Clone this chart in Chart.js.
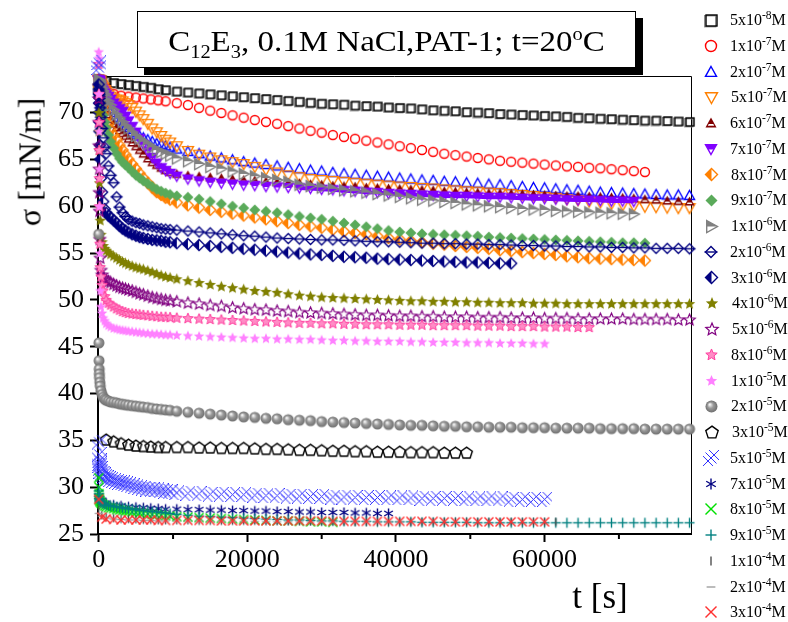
<!DOCTYPE html>
<html>
<head>
<meta charset="utf-8">
<script src="https://cdn.jsdelivr.net/npm/chart.js@4.4.1/dist/chart.umd.min.js"></script>
<style>
  body { margin: 0; background: #fff; }
  #wrap { position: relative; width: 788px; height: 622px; overflow: hidden; font-family: 'Liberation Serif', 'Times New Roman', serif; color: #000; }
  #chart { position: absolute; left: 0; top: 0; }
  #title { position: absolute; left: 137px; top: 11px; width: 497px; height: 55px; border: 1px solid #000; background: #fff;
           box-shadow: 7px 7px 0 #000; font-size: 30px; text-align: center; line-height: 57px; white-space: nowrap; }
  #title span { display: inline-block; transform: scaleX(1.1); }
  sub, sup { font-size: 62%; line-height: 0; }
  #ylabel { position: absolute; left: 30px; top: 162px; transform: translate(-50%, -50%) rotate(-90deg); font-size: 32px; white-space: nowrap; }
  #xlabel { position: absolute; left: 600px; top: 597px; transform: translate(-50%, -50%); font-size: 35px; white-space: nowrap; }
  #legend { position: absolute; left: 700px; top: 0; width: 88px; height: 622px; }
  .row { position: absolute; left: 0; height: 20px; display: flex; align-items: center; white-space: nowrap; font-size: 16px; }
  .row canvas { margin-left: 3px; margin-right: 11px; }
  .row sup { font-size: 72%; vertical-align: 0.5em; }
</style>
</head>
<body>
<div id="wrap">
  <canvas id="chart" width="788" height="622"></canvas>
  <div id="title"><span>C<sub>12</sub>E<sub>3</sub>, 0.1M NaCl,PAT-1; t=20<sup>o</sup>C</span></div>
  <div id="ylabel">&sigma; [mN/m]</div>
  <div id="xlabel">t [s]</div>
  <div id="legend"></div>
</div>
<script>
// time grids [s]: dense start, coarse start, and the common tail
const tFine = [0, 20, 40, 60, 80, 100, 150, 200, 300, 450, 600, 800, 1000, 1300, 1600, 2000, 2400, 2800, 3200, 3600,
  4000, 4500, 5000, 5500, 6000, 6600, 7200, 7800, 8400, 9000, 9600];
const tCoarse = [0, 400, 1000, 2000, 3000, 4000, 5000, 6000, 7000, 8000, 9000];
const tTail = [10500, 12000, 13500, 15000, 16500, 18000, 19500, 21000, 22500, 24000, 25500, 27000, 28500, 30000,
  31500, 33000, 34500, 36000, 37500, 39000, 40500, 42000, 43500, 45000, 46500, 48000, 49500, 51000, 52500, 54000,
  55500, 57000, 58500, 60000, 61500, 63000, 64500, 66000, 67500, 69000, 70500, 72000, 73500, 75000, 76500, 78000, 79500];

const gridFine = tFine.concat(tTail);
const gridCoarse = tCoarse.concat(tTail);
const gridPenta = tCoarse.slice(2).concat(tTail);

// surface tension sigma [mN/m] for each concentration
const sig5e8 = [73.6, 73.5, 73.4, 73.2, 73.1, 73.0, 72.9, 72.8, 72.7, 72.55, 72.45,
  72.3, 72.2, 72.1, 72.0, 71.9, 71.8, 71.7, 71.6, 71.5, 71.4, 71.3, 71.2, 71.1, 71.0, 70.95, 70.9, 70.8, 70.75, 70.7, 70.6,
  70.55, 70.5, 70.4, 70.3, 70.25, 70.2, 70.1, 70.05, 70.0, 69.9, 69.85, 69.8, 69.75, 69.7, 69.65, 69.6, 69.5, 69.45, 69.4, 69.35,
  69.3, 69.25, 69.2, 69.2, 69.15, 69.1, 69.05];
const sig1e7 = [73.6, 73.2, 72.6, 72.0, 71.8, 71.7, 71.6, 71.5, 71.4, 71.3, 71.2,
  71.0, 70.8, 70.5, 70.2, 69.95, 69.7, 69.45, 69.2, 69.0, 68.8, 68.55, 68.3, 68.05, 67.85, 67.6, 67.4, 67.2, 67.0, 66.8, 66.6,
  66.4, 66.2, 66.0, 65.8, 65.6, 65.45, 65.3, 65.15, 65.0, 64.85, 64.75, 64.65, 64.55, 64.45, 64.35, 64.25, 64.2, 64.1, 64.05, 63.95,
  63.85, 63.75, 63.65];
const sig2e7 = [73.5, 73.45, 73.4, 73.3, 73.25, 73.2, 73.05, 72.9, 72.6, 72.2, 71.8, 71.3, 70.9, 70.4, 70.0, 69.5, 69.2, 68.9,
  68.6, 68.4, 68.2, 67.9, 67.7, 67.5, 67.3, 67.1, 66.9, 66.7, 66.6, 66.45, 66.3,
  66.1, 65.85, 65.6, 65.35, 65.15, 64.95, 64.75, 64.6, 64.45, 64.3, 64.15, 64.0, 63.85, 63.75, 63.6, 63.5, 63.4, 63.3, 63.2, 63.1,
  63.0, 62.9, 62.8, 62.75, 62.65, 62.6, 62.5, 62.45, 62.35, 62.3, 62.2, 62.1, 62.0, 61.95, 61.85, 61.75, 61.7, 61.6, 61.5, 61.45,
  61.4, 61.35, 61.3, 61.25, 61.2, 61.2, 61.15];
const sig5e7 = [73.5, 73.5, 73.45, 73.45, 73.4, 73.4, 73.35, 73.3, 73.1, 72.9, 72.7, 72.4, 72.2, 71.9, 71.7, 71.5, 71.4, 71.3,
  71.2, 71.0, 70.8, 70.5, 70.1, 69.7, 69.3, 68.8, 68.3, 67.9, 67.5, 67.1, 66.8,
  66.4, 65.9, 65.5, 65.2, 64.9, 64.7, 64.5, 64.2, 63.9, 63.6, 63.3, 63.1, 62.9, 62.8, 62.7, 62.6, 62.5, 62.4, 62.3, 62.2,
  62.1, 62.05, 61.95, 61.9, 61.8, 61.7, 61.6, 61.55, 61.45, 61.4, 61.3, 61.2, 61.1, 61.0, 60.9, 60.75, 60.65, 60.5, 60.4, 60.25,
  60.1, 60.0, 59.95, 59.9, 59.85, 59.8, 59.8];
const sig6e7 = [73.5, 73.45, 73.4, 73.35, 73.3, 73.2, 73.05, 72.9, 72.5, 72.0, 71.5, 70.9, 70.4, 69.8, 69.3, 68.8, 68.4, 68.1,
  67.8, 67.5, 67.2, 66.8, 66.4, 66.0, 65.6, 65.1, 64.7, 64.4, 64.1, 63.85, 63.65,
  63.45, 63.3, 63.2, 63.1, 63.0, 62.9, 62.8, 62.75, 62.65, 62.6, 62.5, 62.45, 62.35, 62.3, 62.2, 62.15, 62.1, 62.0, 61.95, 61.9,
  61.85, 61.8, 61.75, 61.7, 61.6, 61.55, 61.5, 61.45, 61.4, 61.4, 61.35, 61.3, 61.25, 61.2, 61.15, 61.1, 61.1, 61.05, 61.0, 60.95,
  60.9, 60.85, 60.75, 60.7, 60.6, 60.55, 60.5];
const sig7e7 = [73.5, 73.45, 73.4, 73.4, 73.35, 73.3, 73.2, 73.0, 72.8, 72.5, 72.3, 72.1, 71.9, 71.7, 71.4, 71.0, 70.7, 70.4,
  70.1, 69.6, 69.1, 68.5, 67.9, 67.2, 66.6, 65.9, 65.2, 64.6, 64.1, 63.8, 63.5,
  63.2, 62.9, 62.7, 62.55, 62.45, 62.35, 62.25, 62.2, 62.1, 62.05, 62.0, 61.95, 61.9, 61.8, 61.75, 61.65, 61.6, 61.5, 61.45, 61.35,
  61.3, 61.25, 61.2, 61.15, 61.1, 61.05, 61.05, 61.0, 60.95, 60.95, 60.9, 60.85, 60.8, 60.8, 60.75, 60.7, 60.65, 60.65, 60.6, 60.55,
  60.55, 60.5];
const sig8e7 = [73.0, 72.9, 72.8, 72.7, 72.65, 72.6, 72.4, 72.2, 71.8, 71.2, 70.7, 70.1, 69.5, 68.8, 68.2, 67.6, 67.1, 66.5,
  66.0, 65.5, 65.0, 64.5, 64.0, 63.5, 63.0, 62.5, 62.0, 61.5, 61.2, 60.9, 60.7,
  60.4, 60.1, 59.85, 59.6, 59.4, 59.2, 59.0, 58.8, 58.6, 58.4, 58.2, 58.0, 57.85, 57.7, 57.5, 57.3, 57.15, 57.0, 56.8, 56.6,
  56.45, 56.3, 56.15, 56.0, 55.9, 55.75, 55.65, 55.55, 55.45, 55.3, 55.2, 55.1, 55.0, 54.9, 54.8, 54.65, 54.55, 54.45, 54.4, 54.35,
  54.3, 54.25, 54.2];
const sig9e7 = [72.6, 72.5, 72.4, 72.3, 72.1, 72.0, 71.7, 71.5, 71.0, 70.3, 69.7, 69.0, 68.4, 67.6, 66.9, 66.2, 65.6, 65.1,
  64.7, 64.4, 64.1, 63.7, 63.3, 63.0, 62.7, 62.4, 62.1, 61.8, 61.6, 61.4, 61.25,
  61.1, 60.95, 60.75, 60.5, 60.25, 60.0, 59.8, 59.6, 59.45, 59.3, 59.1, 58.9, 58.75, 58.6, 58.4, 58.2, 58.0, 57.8, 57.6, 57.4,
  57.25, 57.15, 57.05, 57.0, 56.95, 56.9, 56.85, 56.8, 56.7, 56.65, 56.6, 56.55, 56.5, 56.45, 56.4, 56.35, 56.3, 56.25, 56.2, 56.15,
  56.1, 56.1, 56.05];
const sig1e6 = [73.5, 73.45, 73.45, 73.4, 73.35, 73.3, 73.2, 73.1, 72.9, 72.6, 72.3, 72.0, 71.7, 71.2, 70.8, 70.3, 69.8, 69.4,
  69.0, 68.6, 68.3, 67.9, 67.5, 67.2, 66.9, 66.6, 66.3, 66.0, 65.8, 65.6, 65.4,
  65.1, 64.8, 64.5, 64.2, 64.0, 63.7, 63.45, 63.2, 63.0, 62.8, 62.6, 62.3, 62.15, 62.0, 61.85, 61.7, 61.6, 61.45, 61.3, 61.15,
  61.0, 60.85, 60.7, 60.6, 60.45, 60.35, 60.2, 60.1, 60.0, 59.9, 59.8, 59.7, 59.65, 59.6, 59.5, 59.45, 59.4, 59.35, 59.3, 59.25,
  59.2, 59.15];
const sig2e6 = [72.5, 72.3, 72.1, 71.9, 71.7, 71.5, 71.0, 70.5, 69.5, 68.3, 67.3, 66.3, 65.6, 64.3, 63.3, 62.5, 61.0, 59.9,
  59.3, 58.9, 58.6, 58.4, 58.25, 58.15, 58.0, 57.9, 57.8, 57.7, 57.6, 57.55, 57.5,
  57.45, 57.35, 57.25, 57.15, 57.05, 56.95, 56.85, 56.8, 56.7, 56.6, 56.55, 56.5, 56.45, 56.4, 56.4, 56.35, 56.3, 56.25, 56.2, 56.2,
  56.15, 56.1, 56.05, 56.05, 56.0, 56.0, 55.95, 55.95, 55.9, 55.9, 55.85, 55.8, 55.8, 55.75, 55.75, 55.7, 55.7, 55.65, 55.65, 55.6,
  55.6, 55.55, 55.55, 55.5, 55.5, 55.5, 55.45];
const sig3e6 = [73.0, 72.0, 71.0, 70.0, 69.0, 68.0, 66.5, 65.0, 63.0, 61.5, 60.5, 59.7, 59.3, 59.0, 58.8, 58.5, 58.2, 57.9,
  57.6, 57.4, 57.2, 57.0, 56.85, 56.7, 56.6, 56.5, 56.4, 56.35, 56.3, 56.2, 56.15,
  56.05, 55.95, 55.85, 55.75, 55.65, 55.55, 55.45, 55.35, 55.25, 55.15, 55.05, 54.95, 54.85, 54.8, 54.7, 54.6, 54.55, 54.5, 54.4, 54.35,
  54.3, 54.25, 54.2, 54.15, 54.1, 54.05, 54.0, 54.0, 53.95, 53.9, 53.9];
const sig4e6 = [72.0, 70.0, 68.0, 66.0, 64.0, 62.5, 60.0, 58.5, 57.0, 56.2, 55.8, 55.5, 55.3, 55.1, 54.9, 54.7, 54.5, 54.3,
  54.1, 53.95, 53.8, 53.65, 53.5, 53.4, 53.3, 53.15, 53.0, 52.8, 52.65, 52.5, 52.4,
  52.25, 52.05, 51.85, 51.65, 51.45, 51.3, 51.15, 51.0, 50.9, 50.8, 50.65, 50.5, 50.4, 50.3, 50.25, 50.2, 50.15, 50.1, 50.05, 50.0,
  49.95, 49.9, 49.9, 49.85, 49.85, 49.8, 49.8, 49.75, 49.75, 49.7, 49.7, 49.7, 49.65, 49.65, 49.65, 49.6, 49.6, 49.6, 49.6, 49.6,
  49.6, 49.6, 49.6, 49.6, 49.6, 49.6, 49.6];
const sig5e6 = [71.5, 69.0, 66.5, 64.0, 61.5, 59.5, 56.5, 54.5, 53.2, 52.7, 52.4, 52.2, 52.1, 52.0, 51.9, 51.7, 51.55, 51.4,
  51.3, 51.2, 51.1, 51.0, 50.85, 50.7, 50.6, 50.45, 50.3, 50.2, 50.1, 50.0, 49.95,
  49.85, 49.7, 49.6, 49.45, 49.35, 49.2, 49.1, 49.0, 48.95, 48.85, 48.8, 48.7, 48.65, 48.6, 48.55, 48.5, 48.45, 48.4, 48.4, 48.35,
  48.3, 48.3, 48.25, 48.25, 48.2, 48.2, 48.2, 48.15, 48.15, 48.15, 48.1, 48.1, 48.1, 48.05, 48.05, 48.05, 48.0, 48.0, 48.0, 48.0,
  48.0, 47.95, 47.95, 47.95, 47.95, 47.9, 47.9];
const sig8e6 = [75.2, 72.0, 69.0, 66.0, 63.0, 60.0, 56.0, 53.5, 52.5, 51.6, 51.0, 50.4, 50.0, 49.7, 49.5, 49.3, 49.1, 48.95,
  48.8, 48.7, 48.6, 48.55, 48.5, 48.45, 48.4, 48.35, 48.3, 48.25, 48.2, 48.2, 48.15,
  48.1, 48.05, 48.0, 47.95, 47.9, 47.85, 47.8, 47.75, 47.7, 47.65, 47.6, 47.55, 47.55, 47.5, 47.5, 47.45, 47.45, 47.4, 47.4, 47.4,
  47.35, 47.35, 47.35, 47.3, 47.3, 47.3, 47.3, 47.25, 47.25, 47.25, 47.2, 47.2, 47.2, 47.15, 47.15, 47.15, 47.1, 47.1];
const sig1e5 = [76.5, 75.8, 72.0, 68.0, 64.0, 60.0, 55.0, 51.0, 49.3, 48.6, 48.1, 47.8, 47.5, 47.3, 47.15, 47.0, 46.95, 46.85,
  46.8, 46.75, 46.7, 46.65, 46.6, 46.55, 46.5, 46.45, 46.4, 46.4, 46.35, 46.3, 46.3,
  46.25, 46.2, 46.15, 46.1, 46.05, 46.0, 45.95, 45.9, 45.9, 45.85, 45.85, 45.8, 45.8, 45.75, 45.7, 45.7, 45.65, 45.65, 45.6, 45.6,
  45.6, 45.55, 45.55, 45.5, 45.5, 45.5, 45.45, 45.45, 45.45, 45.4, 45.4, 45.4, 45.35, 45.35];
const sig2e5 = [57.0, 45.4, 43.5, 42.6, 42.1, 41.7, 41.2, 40.8, 40.3, 39.9, 39.6, 39.4, 39.3, 39.2, 39.1, 39.05, 39.0, 38.9,
  38.85, 38.8, 38.75, 38.7, 38.65, 38.6, 38.55, 38.5, 38.4, 38.35, 38.3, 38.25, 38.2,
  38.1, 38.0, 37.9, 37.8, 37.7, 37.6, 37.5, 37.45, 37.35, 37.3, 37.2, 37.15, 37.1, 37.0, 36.95, 36.9, 36.85, 36.8, 36.75, 36.7,
  36.65, 36.6, 36.6, 36.55, 36.5, 36.5, 36.45, 36.45, 36.4, 36.4, 36.4, 36.35, 36.35, 36.35, 36.3, 36.3, 36.3, 36.3, 36.25, 36.25,
  36.25, 36.25, 36.2, 36.2, 36.2, 36.2, 36.2];
const sig3e5 = [35.1, 34.9, 34.7, 34.55, 34.45, 34.4, 34.35, 34.3, 34.3,
  34.3, 34.3, 34.25, 34.25, 34.2, 34.2, 34.2, 34.15, 34.1, 34.1, 34.05, 34.0, 34.0, 33.95, 33.9, 33.9, 33.85, 33.85, 33.8, 33.8,
  33.8, 33.75, 33.75, 33.75, 33.7, 33.7, 33.7];
const sig5e5 = [75.3, 74.8, 34.8, 33.5, 32.8, 32.5, 32.3, 32.0, 31.7, 31.5, 31.3, 31.15, 31.0, 30.9, 30.8, 30.7, 30.6, 30.5,
  30.45, 30.35, 30.25, 30.15, 30.05, 29.95, 29.9, 29.8, 29.75, 29.7, 29.6, 29.55, 29.5,
  29.4, 29.35, 29.3, 29.25, 29.25, 29.2, 29.2, 29.15, 29.1, 29.1, 29.05, 29.05, 29.0, 29.0, 28.95, 28.95, 28.9, 28.9, 28.9, 28.85,
  28.85, 28.85, 28.8, 28.8, 28.8, 28.8, 28.75, 28.75, 28.75, 28.75, 28.7, 28.7, 28.7, 28.7];
const sig7e5 = [29.0, 28.6, 28.3, 28.1, 28.0, 27.9, 27.85, 27.8, 27.75, 27.7, 27.65,
  27.65, 27.6, 27.6, 27.55, 27.55, 27.5, 27.5, 27.45, 27.45, 27.4, 27.4, 27.35, 27.35, 27.3, 27.3, 27.3, 27.25, 27.25, 27.2, 27.2];
const sig8e5 = [31.0, 30.0, 29.3, 28.9, 28.7, 28.6, 28.5, 28.4, 28.3, 28.2, 28.1, 28.0, 27.9, 27.8, 27.75, 27.7, 27.6, 27.55,
  27.5, 27.45, 27.4, 27.35, 27.3, 27.25, 27.2, 27.15, 27.1, 27.05, 27.0, 26.95, 26.9,
  26.85, 26.8, 26.75, 26.7, 26.65, 26.6, 26.55, 26.5, 26.45, 26.4, 26.4, 26.35, 26.3, 26.3, 26.25];
const sig9e5 = [29.6, 29.3, 29.0, 28.8, 28.7, 28.6, 28.5, 28.45, 28.4, 28.3, 28.25, 28.2, 28.1, 28.05, 28.0, 27.95, 27.9, 27.85,
  27.8, 27.75, 27.7, 27.65, 27.6, 27.55, 27.5, 27.45, 27.4, 27.35, 27.3, 27.25, 27.2,
  27.1, 27.0, 26.9, 26.85, 26.8, 26.75, 26.7, 26.65, 26.6, 26.55, 26.5, 26.5, 26.45, 26.4, 26.4, 26.35, 26.35, 26.35, 26.3, 26.3,
  26.3, 26.3, 26.25, 26.25, 26.25, 26.25, 26.25, 26.2, 26.2, 26.2, 26.2, 26.2, 26.2, 26.2, 26.2, 26.2, 26.2, 26.2, 26.2, 26.2,
  26.2, 26.2, 26.2, 26.2, 26.2, 26.2, 26.2];
const sig1e4 = [27.6, 27.0, 26.8, 26.7, 26.6, 26.6, 26.55, 26.5, 26.5, 26.45, 26.45,
  26.45, 26.45, 26.4, 26.4, 26.4, 26.4, 26.4, 26.4, 26.35, 26.35, 26.35, 26.35, 26.35, 26.35, 26.35, 26.35, 26.3, 26.3, 26.3, 26.3,
  26.3, 26.3, 26.3, 26.3, 26.3, 26.3, 26.3, 26.3, 26.3, 26.3, 26.3, 26.3, 26.3, 26.3, 26.3];
const sig2e4 = [27.2, 26.9, 26.7, 26.6, 26.55, 26.5, 26.5, 26.45, 26.45, 26.4, 26.4,
  26.4, 26.4, 26.4, 26.35, 26.35, 26.35, 26.35, 26.35, 26.3, 26.3, 26.3, 26.3, 26.3, 26.3, 26.3, 26.3, 26.3, 26.3, 26.3, 26.3, 26.3];
const sig3e4 = [28.7, 26.8, 26.6, 26.55, 26.5, 26.5, 26.5, 26.5, 26.5, 26.45, 26.45,
  26.45, 26.45, 26.45, 26.45, 26.4, 26.4, 26.4, 26.4, 26.4, 26.4, 26.4, 26.4, 26.4, 26.4, 26.35, 26.35, 26.35, 26.35, 26.35, 26.35,
  26.35, 26.35, 26.35, 26.35, 26.3, 26.3, 26.3, 26.3, 26.3, 26.3, 26.3, 26.3, 26.3, 26.3];

// legend labels: mantissa x 10^exponent M
const concMant = ['5', '1', '2', '5', '6', '7', '8', '9', '1', '2', '3', '4', '5', '8', '1', '2', '3', '5', '7', '8', '9', '1', '2', '3'];
const concExp = ['-8', '-7', '-7', '-7', '-7', '-7', '-7', '-7', '-6', '-6', '-6', '-6', '-6', '-6', '-5', '-5', '-5', '-5', '-5', '-5', '-5', '-4', '-4', '-4'];

const yTicks = [25, 30, 35, 40, 45, 50, 55, 60, 65, 70];
const xTicks = [0, 20000, 40000, 60000];
const xMinorTicks = [10000, 30000, 50000, 70000];

const series = [
  { t: gridCoarse, s: sig5e8, kind: 'square', color: '#000000', size: 8 },
  { t: gridCoarse, s: sig1e7, kind: 'circle', color: '#ff0000', size: 9 },
  { t: gridFine, s: sig2e7, kind: 'triUp', color: '#0000ff', size: 10 },
  { t: gridFine, s: sig5e7, kind: 'triDown', color: '#ff8000', size: 11 },
  { t: gridFine, s: sig6e7, kind: 'triUpBand', color: '#800000', size: 10 },
  { t: gridFine, s: sig7e7, kind: 'triDownHalf', color: '#8000ff', size: 10 },
  { t: gridFine, s: sig8e7, kind: 'diamondHalf', color: '#ff8000', size: 11 },
  { t: gridFine, s: sig9e7, kind: 'diamond', color: '#5aaa5a', size: 11 },
  { t: gridFine, s: sig1e6, kind: 'triRight', color: '#808080', size: 11 },
  { t: gridFine, s: sig2e6, kind: 'diamondLine', color: '#000080', size: 10 },
  { t: gridFine, s: sig3e6, kind: 'diamondHalf', color: '#000080', size: 11 },
  { t: gridFine, s: sig4e6, kind: 'star', color: '#808000', size: 12 },
  { t: gridFine, s: sig5e6, kind: 'starOpen', color: '#800080', size: 12 },
  { t: gridFine, s: sig8e6, kind: 'starPink', color: '#ff3f9f', size: 11 },
  { t: gridFine, s: sig1e5, kind: 'star', color: '#ff80ff', size: 11 },
  { t: gridFine, s: sig2e5, kind: 'sphere', color: '#808080', size: 11 },
  { t: gridPenta, s: sig3e5, kind: 'pentagon', color: '#000000', size: 12 },
  { t: gridFine, s: sig5e5, kind: 'hatch', color: '#3030ff', size: 10 },
  { t: gridCoarse, s: sig7e5, kind: 'asterisk', color: '#000080', size: 10 },
  { t: gridFine, s: sig8e5, kind: 'cross', color: '#00e000', size: 9 },
  { t: gridFine, s: sig9e5, kind: 'plus', color: '#008080', size: 10 },
  { t: gridCoarse, s: sig1e4, kind: 'vbar', color: '#505050', size: 10 },
  { t: gridCoarse, s: sig2e4, kind: 'hbar', color: '#a0a0a0', size: 10 },
  { t: gridCoarse, s: sig3e4, kind: 'cross', color: '#ff3030', size: 9 }
];

function poly(g, pts) {
  g.beginPath();
  pts.forEach(([x, y], i) => (i ? g.lineTo(x, y) : g.moveTo(x, y)));
  g.closePath();
}

function starPts(m, r, inner) {
  const pts = [];
  for (let i = 0; i < 10; i++) {
    const a = -Math.PI / 2 + i * Math.PI / 5;
    const rr = i % 2 ? r * inner : r;
    pts.push([m + rr * Math.cos(a), m + 0.08 * r + rr * Math.sin(a)]);
  }
  return pts;
}

function makeMarker(kind, color, size) {
  const c = document.createElement('canvas');
  c.width = c.height = size + 5;
  const g = c.getContext('2d');
  const m = c.width / 2, r = size / 2;
  g.lineWidth = 1.4;
  g.strokeStyle = color;
  g.fillStyle = color;
  g.lineJoin = 'miter';
  const line = (x1, y1, x2, y2) => { g.beginPath(); g.moveTo(x1, y1); g.lineTo(x2, y2); g.stroke(); };
  switch (kind) {
    case 'square':
      g.strokeStyle = '#8c8c8c';
      g.strokeRect(m - r - 0.8, m - r + 1.2, size, size);
      g.strokeStyle = color;
      g.strokeRect(m - r + 0.5, m - r + 0.5, size, size);
      break;
    case 'circle':
      g.beginPath(); g.arc(m, m, r, 0, Math.PI * 2); g.stroke();
      break;
    case 'triUp':
      poly(g, [[m, m - r], [m + r, m + r * 0.8], [m - r, m + r * 0.8]]); g.stroke();
      break;
    case 'triDown':
      poly(g, [[m, m + r], [m + r, m - r * 0.8], [m - r, m - r * 0.8]]); g.stroke();
      break;
    case 'triUpBand': {
      poly(g, [[m, m - r], [m + r, m + r * 0.8], [m - r, m + r * 0.8]]); g.fill();
      const y1 = m + r * 0.2, y2 = m + r * 0.5;
      const hw = y => r * (y - (m - r)) / (1.8 * r) - 1.4;
      g.fillStyle = '#fff';
      poly(g, [[m - hw(y1), y1], [m + hw(y1), y1], [m + hw(y2), y2], [m - hw(y2), y2]]); g.fill();
      break;
    }
    case 'triDownHalf':
      poly(g, [[m - r, m - r * 0.8], [m + r, m - r * 0.8], [m + r * 0.45, m + 0.1 * r], [m - r * 0.45, m + 0.1 * r]]); g.fill();
      poly(g, [[m, m + r], [m + r, m - r * 0.8], [m - r, m - r * 0.8]]); g.stroke();
      break;
    case 'diamond':
      poly(g, [[m, m - r], [m + r, m], [m, m + r], [m - r, m]]); g.fill();
      break;
    case 'diamondHalf':
      poly(g, [[m, m - r], [m, m + r], [m - r, m]]); g.fill();
      poly(g, [[m, m - r], [m + r, m], [m, m + r], [m - r, m]]); g.stroke();
      break;
    case 'diamondLine':
      poly(g, [[m, m - r], [m + r, m], [m, m + r], [m - r, m]]); g.stroke();
      line(m - r - 1, m, m + r + 1, m);
      break;
    case 'triRight':
      poly(g, [[m - r * 0.8, m - r], [m + r, m], [m - r * 0.8, m]]); g.fill();
      poly(g, [[m - r * 0.8, m - r], [m + r, m], [m - r * 0.8, m + r]]); g.stroke();
      break;
    case 'star':
      poly(g, starPts(m, r, 0.45)); g.fill();
      break;
    case 'starOpen':
      g.lineWidth = 1.2;
      poly(g, starPts(m, r, 0.45)); g.stroke();
      break;
    case 'starPink':
      g.fillStyle = '#ff8cc6';
      g.lineWidth = 1;
      poly(g, starPts(m, r, 0.45)); g.fill(); g.stroke();
      break;
    case 'sphere': {
      const gr = g.createRadialGradient(m - r * 0.3, m - r * 0.35, 0.5, m, m, r);
      gr.addColorStop(0, '#f4f4f4');
      gr.addColorStop(0.45, '#9a9a9a');
      gr.addColorStop(1, '#6e6e6e');
      g.fillStyle = gr;
      g.beginPath(); g.arc(m, m, r, 0, Math.PI * 2); g.fill();
      break;
    }
    case 'pentagon': {
      const pts = [];
      for (let i = 0; i < 5; i++) {
        const a = -Math.PI / 2 + i * 2 * Math.PI / 5;
        pts.push([m + r * Math.cos(a), m + 0.1 * r + r * Math.sin(a)]);
      }
      poly(g, pts); g.stroke();
      break;
    }
    case 'hatch':
      g.lineWidth = 1;
      [-0.55, 0, 0.55].forEach(o => {
        line(m - r + o * r, m - r - o * r, m + r + o * r, m + r - o * r);
        line(m - r - o * r, m + r + o * r, m + r - o * r, m - r + o * r);
      });
      break;
    case 'asterisk':
      line(m, m - r, m, m + r);
      line(m - r * 0.87, m - r * 0.5, m + r * 0.87, m + r * 0.5);
      line(m - r * 0.87, m + r * 0.5, m + r * 0.87, m - r * 0.5);
      break;
    case 'cross':
      line(m - r, m - r, m + r, m + r);
      line(m - r, m + r, m + r, m - r);
      break;
    case 'plus':
      line(m, m - r, m, m + r);
      line(m - r, m, m + r, m);
      break;
    case 'vbar':
      line(m, m - r * 0.8, m, m + r * 0.8);
      break;
    case 'hbar':
      line(m - r * 0.8, m, m + r * 0.8, m);
      break;
  }
  return c;
}

function toPoints(times, values) {
  return values.map((v, i) => ({ x: times[i], y: v }));
}

const datasets = series.map((d, i) => {
  const ds = {
    data: toPoints(d.t, d.s),
    pointStyle: makeMarker(d.kind, d.color, d.size),
    pointRadius: 30,
    pointHoverRadius: 30,
    clip: false,
    showLine: false,
    order: -i
  };
  if (d.kind === 'triDownHalf') {
    // the 7e-7 M run is sampled so densely that its symbols fuse into a band
    ds.showLine = true;
    ds.borderWidth = 4;
    ds.borderColor = d.color;
    ds.segment = { borderColor: ctx => (ctx.p0.parsed.x >= 27000 ? d.color : 'rgba(0,0,0,0)') };
  }
  return ds;
});

const framePlugin = {
  id: 'frame',
  beforeDatasetsDraw(chart) {
    const { ctx, chartArea: a, scales: { x } } = chart;
    ctx.save();
    ctx.strokeStyle = '#000';
    ctx.lineWidth = 1;
    ctx.beginPath();
    ctx.moveTo(a.left, a.top + 0.5);
    ctx.lineTo(a.right + 0.5, a.top + 0.5);
    ctx.lineTo(a.right + 0.5, a.bottom);
    ctx.stroke();
    ctx.lineWidth = 2;
    xMinorTicks.forEach(v => {
      const px = x.getPixelForValue(v);
      ctx.beginPath();
      ctx.moveTo(px, a.bottom);
      ctx.lineTo(px, a.bottom + 5);
      ctx.stroke();
    });
    ctx.restore();
  }
};

const tickFont = { family: "'Liberation Serif', 'Times New Roman', serif", size: 26 };

new Chart(document.getElementById('chart'), {
  type: 'scatter',
  data: { datasets },
  options: {
    responsive: false,
    animation: false,
    events: [],
    layout: { padding: { left: 0, right: 97, top: 76, bottom: 0 } },
    plugins: { legend: { display: false }, tooltip: { enabled: false } },
    scales: {
      x: {
        type: 'linear',
        min: -100,
        max: 79700,
        afterFit(s) { s.height = 88; },
        afterBuildTicks(s) { s.ticks = xTicks.map(v => ({ value: v })); },
        grid: { drawOnChartArea: false, drawTicks: true, tickLength: 8, tickWidth: 2, tickColor: '#000' },
        border: { display: true, color: '#000', width: 2 },
        ticks: { color: '#000', font: tickFont, padding: 3, maxRotation: 0, callback: v => String(v) }
      },
      y: {
        min: 25,
        max: 73.9,
        afterFit(s) { s.width = 98; },
        afterBuildTicks(s) { s.ticks = yTicks.map(v => ({ value: v })); },
        grid: { drawOnChartArea: false, drawTicks: true, tickLength: 8, tickWidth: 2, tickColor: '#000' },
        border: { display: true, color: '#000', width: 2 },
        ticks: { color: '#000', font: tickFont, padding: 6, callback: v => String(v) }
      }
    }
  },
  plugins: [framePlugin]
});

// legend column on the right
const legend = document.getElementById('legend');
series.forEach((d, i) => {
  const row = document.createElement('div');
  row.className = 'row';
  row.style.top = (10 + 25.75 * i) + 'px';
  const mk = makeMarker(d.kind, d.color, Math.max(d.size, 10) + 1);
  row.appendChild(mk);
  const txt = document.createElement('span');
  txt.innerHTML = concMant[i] + 'x10<sup>' + concExp[i] + '</sup>M';
  row.appendChild(txt);
  legend.appendChild(row);
});
</script>
</body>
</html>
